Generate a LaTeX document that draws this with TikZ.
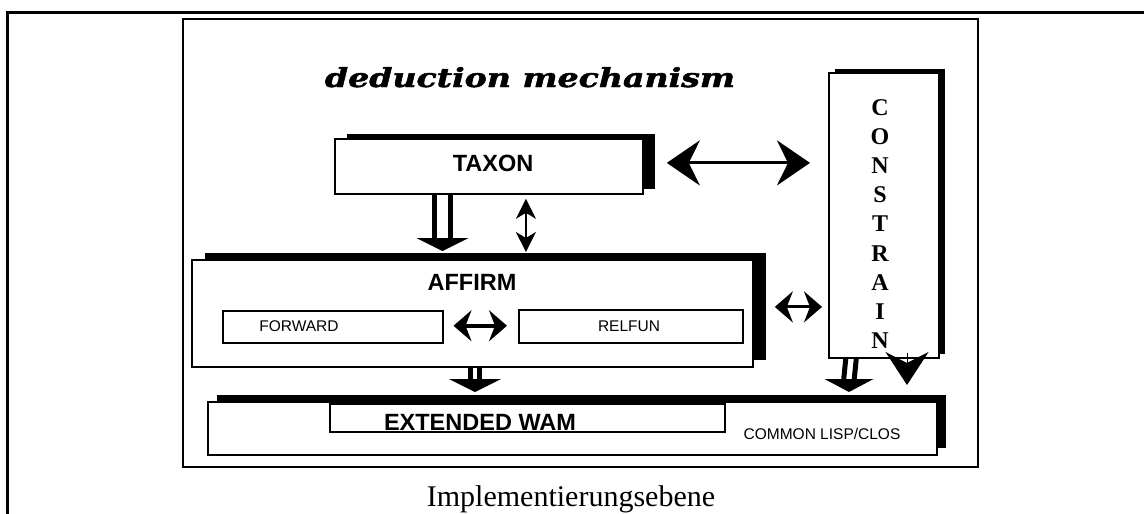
\documentclass[tikz,border=0pt]{standalone}
\usepackage{fontspec}
\setmainfont{Liberation Serif}
\setsansfont{Liberation Sans}
\newfontfamily\titlefont[FakeBold=1.6]{DejaVu Serif Bold Italic}
\usetikzlibrary{arrows.meta,shadows,calc}

\tikzset{
  box/.style={draw, fill=white, line width=1.8pt, inner sep=0pt, anchor=north west},
  shadowed/.style 2 args={drop shadow={fill=black, opacity=1, shadow xshift=#1, shadow yshift=#2}},
  boldlabel/.style={font=\sffamily\bfseries\fontsize{23.5}{27}\selectfont, inner sep=0pt},
  smalllabel/.style={font=\sffamily\fontsize{15.5}{18}\selectfont, inner sep=0pt},
  letter/.style={font=\rmfamily\bfseries\fontsize{24}{28}\selectfont, inner sep=0pt, anchor=base},
  bigdouble/.style={line width=3pt, {Stealth[length=33pt,width=45pt,inset=11pt]}-{Stealth[length=33pt,width=45pt,inset=11pt]}},
  middouble/.style={line width=3.5pt, {Stealth[length=18pt,width=31pt,inset=6pt]}-{Stealth[length=18pt,width=31pt,inset=6pt]}},
  thindouble/.style={line width=2pt, {Stealth[length=20pt,width=20pt,inset=6pt]}-{Stealth[length=20pt,width=20pt,inset=6pt]}},
}

% block arrow: two parallel bars and a filled flat head
% #1 top centre, #2 tip, #3 half distance between bars, #4 head half width, #5 head height
\newcommand\blockarrow[5]{%
  \draw[line width=5pt] ($(#1)+(-#3,0)$) -- ($(#2)+(-#3,-#5)$);
  \draw[line width=5pt] ($(#1)+(#3,0)$) -- ($(#2)+(#3,-#5)$);
  \fill ($(#2)+(-#4,-#5)$) -- ($(#2)+(#4,-#5)$) -- (#2) -- cycle;
}

\begin{document}
\begin{tikzpicture}[x=1pt,y=-1pt]
\useasboundingbox (0,0) rectangle (1144,514);

% page frame and figure frame
\draw[line width=3pt] (1160,12) -- (7,12) -- (7,530);
\draw[line width=2pt] (183,19) rectangle (978,467);

% title
\node[inner sep=0pt, anchor=base] (title) at (530,87)
  {\resizebox{410pt}{20pt}{\titlefont deduction mechanism}};

% boxes
\node[box, shadowed={12pt}{5pt}, minimum width=308pt, minimum height=55pt] (taxon) at (334,138) {};
\node[boldlabel] (taxonlabel) at (493,163) {TAXON};

\node[box, shadowed={6pt}{4pt}, minimum width=110pt, minimum height=285pt] (cons) at (828,72) {};
\foreach \l [count=\i from 0] in {C,O,N,S,T,R,A,I,N}
  \node[letter] (cons\i) at (880,{115.5+29.1*\i}) {\l};

\node[box, shadowed={13pt}{7pt}, minimum width=561pt, minimum height=107pt] (affirm) at (191,259) {};
\node[boldlabel] (affirmlabel) at (472,282) {AFFIRM};

\node[box, line width=1.5pt, minimum width=220pt, minimum height=32pt] (forward) at (222,310) {};
\node[smalllabel] (forwardlabel) at (299,326) {FORWARD};
\node[box, line width=1.5pt, minimum width=224pt, minimum height=33pt] (relfun) at (518,309) {};
\node[smalllabel] (relfunlabel) at (629,326) {RELFUN};

\node[box, shadowed={9pt}{7pt}, minimum width=729pt, minimum height=53pt] (lisp) at (207,401) {};
\node[box, line width=1.5pt, minimum width=395pt, minimum height=28pt] (wam) at (329,403) {};
\node[boldlabel, anchor=base] (wamlabel) at (480,430) {EXTENDED WAM};
\node[smalllabel] (lisplabel) at (822,434) {COMMON LISP/CLOS};

% connectors
\draw[bigdouble, shorten <=23pt, shorten >=18pt]
  ([yshift=3.5pt]taxon.east) -- ([yshift=3.5pt]taxon.east -| cons.west);
\draw[thindouble, shorten <=4pt, shorten >=7pt]
  ([xshift=37pt]taxon.south) -- ([xshift=37pt]taxon.south |- affirm.north);
\draw[middouble, shorten <=10pt, shorten >=11pt]
  ([yshift=1pt]forward.east) -- ([yshift=1pt]forward.east -| relfun.west);
\draw[middouble, line width=3pt, shorten <=21pt, shorten >=6pt]
  ([yshift=6.5pt]affirm.east) -- ([yshift=6.5pt]affirm.east -| cons.west);

\coordinate (tA) at ($(taxon.south west)+(108.5,0)$);
\coordinate (tB) at ($(tA |- affirm.north)+(0,-8)$);
\blockarrow{tA}{tB}{8}{26}{13}

\coordinate (aA) at ($(affirm.south west)+(284,0)$);
\coordinate (aB) at ($(aA |- lisp.north)+(0,-9)$);
\blockarrow{aA}{aB}{4.75}{26}{13}

\coordinate (cA) at ($(cons.south west)+(23,0)$);
\coordinate (cB) at ($(cA |- lisp.north)+(-2,-9)$);
\blockarrow{cA}{cB}{5.25}{24.5}{13}

\coordinate (dA) at ($(cons.south west)+(79,-6)$);
\coordinate (dB) at ($(dA |- lisp.north)+(0,-16)$);
\draw[line width=1pt, -{Stealth[length=33pt,width=43pt,inset=11pt]}] (dA) -- (dB);

% caption
\node[inner sep=0pt, anchor=base, font=\rmfamily\fontsize{30}{34}\selectfont] (caption) at (571,506) {Implementierungsebene};
\end{tikzpicture}
\end{document}
